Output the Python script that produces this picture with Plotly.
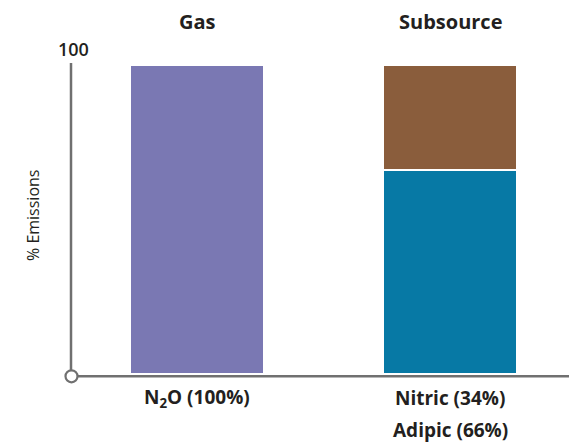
import plotly.graph_objects as go

# ---- data ----
categories = ["Gas", "Subsource"]
gas_values = [100, None]          # N2O
adipic_values = [None, 66]        # bottom segment of subsource
nitric_values = [None, 34]        # top segment of subsource
column_titles = ["Gas", "Subsource"]
bar_labels = [["N<sub>2</sub>O (100%)"], ["Nitric (34%)", "Adipic (66%)"]]
y_top_label = "100"
y_title = "% Emissions"

PURPLE = "#7a78b3"
BROWN = "#8a5d3c"
TEAL = "#0779a5"
AXIS = "#707070"
TXT = "#231f20"
FONT = "Open Sans"

W, H = 569, 444
ML, MR, MT, MB = 71, 0, 65, 70
plot_h = H - MT - MB
plot_w = W - ML - MR

fig = go.Figure()
line = dict(color="white", width=2)
fig.add_bar(x=categories, y=gas_values, marker=dict(color=PURPLE, line=line), width=0.53)
fig.add_bar(x=categories, y=adipic_values, marker=dict(color=TEAL, line=line), width=0.53)
fig.add_bar(x=categories, y=nitric_values, marker=dict(color=BROWN, line=line), width=0.53)

axis_py = -2.3 / plot_h
top_py = 1 + 2 / plot_h

shapes = [
    dict(type="line", xref="paper", yref="paper", x0=0, x1=1, y0=axis_py, y1=axis_py,
         line=dict(color=AXIS, width=2.5), layer="above"),
    dict(type="line", xref="paper", yref="paper", x0=0, x1=0, y0=axis_py, y1=top_py,
         line=dict(color=AXIS, width=2.5), layer="above"),
    dict(type="circle", xref="paper", yref="paper", xsizemode="pixel", ysizemode="pixel",
         xanchor=0.5 / plot_w, yanchor=axis_py, x0=-6, x1=6, y0=-6, y1=6,
         line=dict(color=AXIS, width=2.2), fillcolor="white", layer="above"),
]

annotations = []
for cat, title in zip(categories, column_titles):
    annotations.append(dict(x=cat, xref="x", y=(H - 22 - MB) / plot_h, yref="paper",
                            text=title, showarrow=False, xanchor="center", yanchor="middle",
                            font=dict(family=FONT, size=20, color=TXT, weight=700)))
line_ys = [398, 430]
for cat, labels in zip(categories, bar_labels):
    for i, lab in enumerate(labels):
        annotations.append(dict(x=cat, xref="x", y=(H - line_ys[i] - MB) / plot_h, yref="paper",
                                text=lab, showarrow=False, xanchor="center", yanchor="middle",
                                font=dict(family=FONT, size=19, color=TXT, weight=700)))
annotations.append(dict(x=2 / plot_w, xref="paper", y=(H - 49 - MB) / plot_h, yref="paper",
                        text=y_top_label, showarrow=False, xanchor="center", yanchor="middle",
                        font=dict(family=FONT, size=18, color=TXT, weight=600)))
annotations.append(dict(x=(33 - ML) / plot_w, xref="paper", y=(H - 216 - MB) / plot_h, yref="paper",
                        text=y_title, showarrow=False, textangle=-90, xanchor="center", yanchor="middle",
                        font=dict(family=FONT, size=16, color=TXT)))

fig.update_layout(
    width=W, height=H, barmode="stack", showlegend=False,
    margin=dict(l=ML, r=MR, t=MT, b=MB),
    paper_bgcolor="white", plot_bgcolor="white",
    xaxis=dict(range=[-126 / 253, (W - 197) / 253], showticklabels=False, showgrid=False,
               zeroline=False, showline=False, fixedrange=True),
    yaxis=dict(range=[0, 100], showticklabels=False, showgrid=False, zeroline=False,
               showline=False, fixedrange=True),
    shapes=shapes, annotations=annotations,
)
fig.write_html("out.html", config={"displayModeBar": False},
               post_script="document.body.style.margin='0';")
